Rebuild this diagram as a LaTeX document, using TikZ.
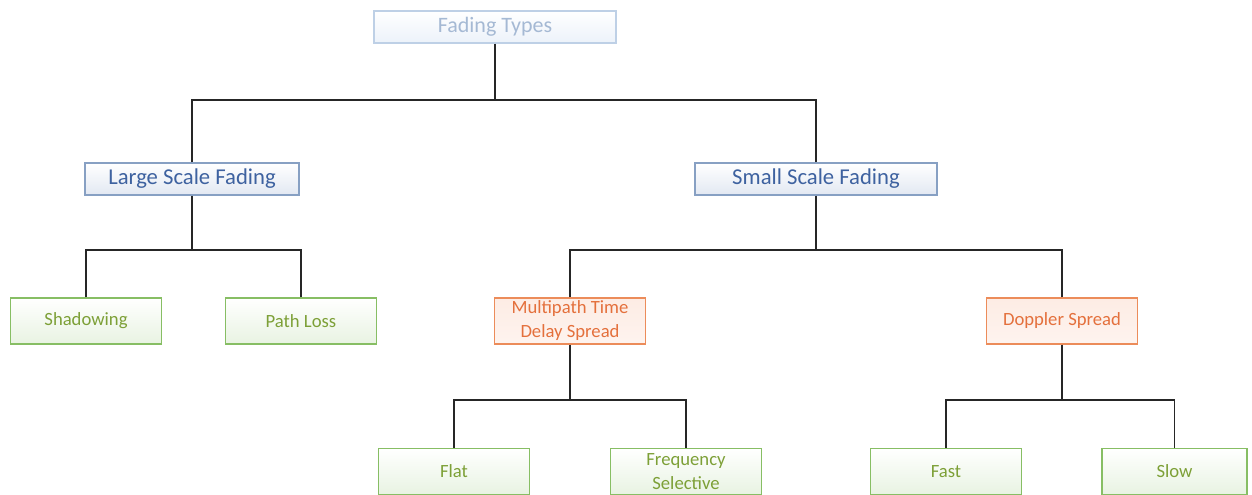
\documentclass[tikz,border=0pt]{standalone}
\usepackage{fontspec}
\setmainfont{Carlito}
\begin{document}
\begin{tikzpicture}[x=0.75pt,y=-0.75pt,
  box/.style={draw, line width=1.1pt, inner sep=0pt, align=center},
  topbox/.style={box, draw=ftBorder, top color=white, bottom color=ftFill, text=ftText,
    minimum width=181.5pt, minimum height=24pt, font=\fontsize{16.5}{18}\selectfont},
  bluebox/.style={box, draw=blBorder, top color=white, bottom color=blFill, text=blText,
    minimum height=24pt, font=\fontsize{17}{19}\selectfont},
  greenbox/.style={box, draw=grBorder, top color=white, bottom color=grFill, text=grText,
    minimum width=113pt, minimum height=34.5pt, font=\fontsize{14}{17.5}\selectfont},
  orangebox/.style={box, draw=orBorder, top color=orFill, bottom color=orFill!60!white, text=orText,
    minimum width=113pt, minimum height=34.5pt, font=\fontsize{14}{18}\selectfont},
  link/.style={draw=black!85, line width=1.3pt}]
\definecolor{ftBorder}{RGB}{190,208,230}
\definecolor{ftFill}{RGB}{236,242,250}
\definecolor{ftText}{RGB}{165,185,212}
\definecolor{blBorder}{RGB}{135,160,195}
\definecolor{blFill}{RGB}{226,232,242}
\definecolor{blText}{RGB}{62,98,160}
\definecolor{grBorder}{RGB}{135,190,100}
\definecolor{grFill}{RGB}{232,243,226}
\definecolor{grText}{RGB}{125,160,55}
\definecolor{orBorder}{RGB}{236,140,90}
\definecolor{orFill}{RGB}{253,236,228}
\definecolor{orText}{RGB}{228,112,60}

\useasboundingbox (0,0) rectangle (1252,494);

% level 0
\node[topbox] (ft) at (495,27) {Fading Types};
% level 1
\node[bluebox, minimum width=160.5pt] (ls) at (192,179) {Large Scale Fading};
\node[bluebox, minimum width=181.5pt] (ss) at (816,179) {Small Scale Fading};
% level 2
\node[greenbox] (sh) at (86,321) {Shadowing};
\node[greenbox] (pl) at (301,321) {Path Loss};
\node[orangebox] (mp) at (570,321) {Multipath Time\\Delay Spread};
\node[orangebox] (dp) at (1062,321) {Doppler Spread};
% level 3
\node[greenbox] (fl) at (454,471.5) {Flat};
\node[greenbox] (fs) at (686,471.5) {Frequency\\Selective};
\node[greenbox] (fa) at (946,471.5) {Fast};
\node[greenbox, minimum width=109pt] (sl) at (1174.5,471.5) {Slow};

% branch points
\coordinate (j0) at (495,100);
\coordinate (j1) at (192,250);
\coordinate (j2) at (816,250);
\coordinate (j3) at (570,400);
\coordinate (j4) at (1062,400);

\path[link] (ft.south) -- (j0);
\path[link] (ls.north) |- (j0);
\path[link] (ss.north) |- (j0);

\path[link] (ls.south) -- (j1);
\path[link] (sh.north) |- (j1);
\path[link] (pl.north) |- (j1);

\path[link] (ss.south) -- (j2);
\path[link] (mp.north) |- (j2);
\path[link] (dp.north) |- (j2);

\path[link] (mp.south) -- (j3);
\path[link] (fl.north) |- (j3);
\path[link] (fs.north) |- (j3);

\path[link] (dp.south) -- (j4);
\path[link] (fa.north) |- (j4);
\path[link] (sl.north) |- (j4);
\end{tikzpicture}
\end{document}
